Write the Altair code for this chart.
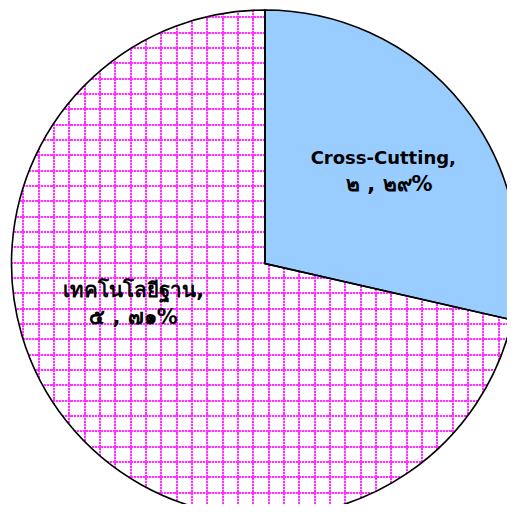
import math
import altair as alt
import pandas as pd

# ---- data ----
categories = ["Cross-Cutting", "เทคโนโลยีฐาน"]
values = [2, 5]

THAI = str.maketrans("0123456789", "๐๑๒๓๔๕๖๗๘๙")
total = sum(values)
name_lines = [f"{c}," for c in categories]
value_lines = [f"{str(v).translate(THAI)} , {str(round(100 * v / total)).translate(THAI)}%"
               for v in values]

df = pd.DataFrame({"cat": categories, "val": values, "l1": name_lines, "l2": value_lines,
                   "ord": [0, 1]})

# ---- layout / style ----
W, H = 499, 496
CX, CY, R = 257, 255.5, 253.5
BLUE = "#99CCFF"
PINK = "#FF33FF"
STEP = 15.33
HALF = 1.0
DOT = 3.0
GAP_COL = "rgba(255,255,255,0.7)"
CLEAR = "rgba(255,255,255,0)"

# bounding box of the patterned wedge (for objectBoundingBox gradients)
a0 = 2 * math.pi * values[0] / total
bx0 = CX - R
bx1 = CX + R * (math.sin(a0) if a0 > math.pi / 2 else 1.0)
by0, by1 = CY - R, CY + R


def band_stops(lo, hi, bands, bg, fg):
    span = hi - lo
    stops = [{"offset": 0, "color": bg}]
    for a, b in bands:
        if a < lo or b > hi:
            continue
        oa, ob = (a - lo) / span, (b - lo) / span
        stops += [{"offset": oa, "color": bg}, {"offset": oa, "color": fg},
                  {"offset": ob, "color": fg}, {"offset": ob, "color": bg}]
    stops.append({"offset": 1, "color": bg})
    return stops


def line_bands(lo, hi, first):
    out = []
    p = first
    while p - HALF < lo:
        p += STEP
    while p + HALF < hi:
        out.append((p - HALF, p + HALF))
        p += STEP
    return out


def gap_bands(lo, hi, lines):
    out = []
    p = math.floor(lo) + 2.0
    while p + 1 < hi:
        if all(p + 1 <= a - 0.01 or p >= b + 0.01 for a, b in lines):
            out.append((p, p + 1))
        p += DOT
    return out


v_lines = line_bands(bx0, bx1, 0.0)
h_lines = line_bands(by0, by1, -6.0)

grad_h = {"gradient": "linear", "x1": 0, "y1": 0, "x2": 0, "y2": 1,
          "stops": band_stops(by0, by1, h_lines, "white", PINK)}
grad_v = {"gradient": "linear", "x1": 0, "y1": 0, "x2": 1, "y2": 0,
          "stops": band_stops(bx0, bx1, v_lines, CLEAR, PINK)}
dots_on_h = {"gradient": "linear", "x1": 0, "y1": 0, "x2": 1, "y2": 0,
             "stops": band_stops(bx0, bx1, gap_bands(bx0, bx1, v_lines), CLEAR, GAP_COL)}
dots_on_v = {"gradient": "linear", "x1": 0, "y1": 0, "x2": 0, "y2": 1,
             "stops": band_stops(by0, by1, gap_bands(by0, by1, h_lines), CLEAR, GAP_COL)}

is_cc = alt.datum.cat == categories[0]

base = alt.Chart(df).encode(
    theta=alt.Theta("val:Q", stack=True),
    order=alt.Order("ord:Q"),
    x=alt.value(CX),
    y=alt.value(CY),
)


def wedge(grad, first_col):
    return base.mark_arc(radius=R).encode(
        fill=alt.condition(is_cc, alt.value(first_col), alt.value(grad))
    )


layers = [
    wedge(grad_h, BLUE),
    wedge(grad_v, "transparent"),
    wedge(dots_on_h, "transparent"),
    wedge(dots_on_v, "transparent"),
    base.mark_arc(radius=R, stroke="black", strokeWidth=1.6, fill="transparent"),
]


def label(idx, field, radius, dx, dy, size):
    return base.transform_calculate(
        lab=f"datum.cat == '{categories[idx]}' ? datum.{field} : ''"
    ).mark_text(radius=radius, dx=dx, dy=dy, font="DejaVu Sans", fontWeight="bold",
                fontSize=size, color="black", align="center",
                baseline="alphabetic").encode(text="lab:N")


layers += [
    label(0, "l1", 150, 1, -6, 18),
    label(0, "l2", 150, 7, 21, 21),
    label(1, "l1", 140, -22, -54, 20.5),
    label(1, "l2", 140, -22, -27, 21),
]

chart = (
    alt.layer(*layers)
    .properties(width=W, height=H, padding=0, autosize=alt.AutoSizeParams(type="none"),
                background="white")
    .configure_view(stroke=None)
)

chart.save("out.html", embed_options={"renderer": "svg", "actions": False})
